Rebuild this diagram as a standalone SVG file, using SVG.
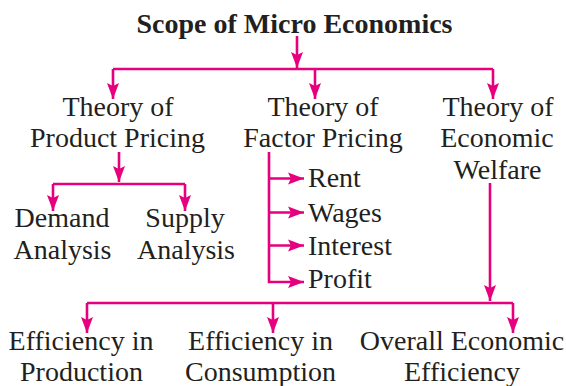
<svg xmlns="http://www.w3.org/2000/svg" width="566" height="386" viewBox="0 0 566 386">
<style>
.t{font-family:"Liberation Serif","Times New Roman",serif;font-size:28px;fill:#231f20;text-anchor:middle}
.l{text-anchor:start}
.b{font-weight:bold}
.c{fill:none;stroke:#e6007e;stroke-width:2.6}
.a{marker-end:url(#ah)}
</style>
<defs>
<marker id="ah" markerUnits="userSpaceOnUse" markerWidth="17" markerHeight="13" refX="16" refY="6.5" orient="auto" viewBox="0 0 17 13">
<path d="M0,0.5 L16,6.5 L0,12.5 L3,6.5 Z" fill="#e6007e"/>
</marker>
</defs>
<rect width="566" height="386" fill="#ffffff"/>
<g id="connectors">
<path class="c a" d="M297,36 V68"/>
<path class="c" d="M113,69 H493"/>
<path class="c a" d="M113,69 V99"/>
<path class="c a" d="M315,69 V99"/>
<path class="c a" d="M493,69 V99"/>
<path class="c a" d="M119,152 V182"/>
<path class="c" d="M53,184 H185"/>
<path class="c a" d="M53,184 V211"/>
<path class="c a" d="M185,184 V211"/>
<path class="c a" d="M269,152 V282 H304"/>
<path class="c a" d="M269,178.5 H304"/>
<path class="c a" d="M269,212.5 H304"/>
<path class="c a" d="M269,245.5 H304"/>
<path class="c a" d="M490,183 V301"/>
<path class="c" d="M87,303 H513"/>
<path class="c a" d="M87,303 V333"/>
<path class="c a" d="M273,303 V333"/>
<path class="c a" d="M513,303 V333"/>
</g>
<g id="scope"><text class="t b" x="294.5" y="33">Scope of Micro Economics</text></g>
<g id="product-pricing"><text class="t" x="118" y="116">Theory of</text><text class="t" x="117.5" y="147">Product Pricing</text></g>
<g id="factor-pricing"><text class="t" x="323" y="116">Theory of</text><text class="t" x="323" y="147">Factor Pricing</text></g>
<g id="economic-welfare"><text class="t" x="498" y="116">Theory of</text><text class="t" x="497" y="147">Economic</text><text class="t" x="497.5" y="179">Welfare</text></g>
<g id="demand"><text class="t" x="62" y="227">Demand</text><text class="t" x="62.5" y="259">Analysis</text></g>
<g id="supply"><text class="t" x="185" y="227">Supply</text><text class="t" x="186" y="259">Analysis</text></g>
<g id="rent"><text class="t l" x="308" y="187">Rent</text></g>
<g id="wages"><text class="t l" x="308" y="221.5">Wages</text></g>
<g id="interest"><text class="t l" x="308" y="255">Interest</text></g>
<g id="profit"><text class="t l" x="308" y="288">Profit</text></g>
<g id="eff-production"><text class="t" x="81" y="350">Efficiency in</text><text class="t" x="81.5" y="381">Production</text></g>
<g id="eff-consumption"><text class="t" x="260.5" y="350">Efficiency in</text><text class="t" x="260.5" y="381">Consumption</text></g>
<g id="overall-efficiency"><text class="t" x="462" y="350">Overall Economic</text><text class="t" x="462" y="381">Efficiency</text></g>
</svg>
